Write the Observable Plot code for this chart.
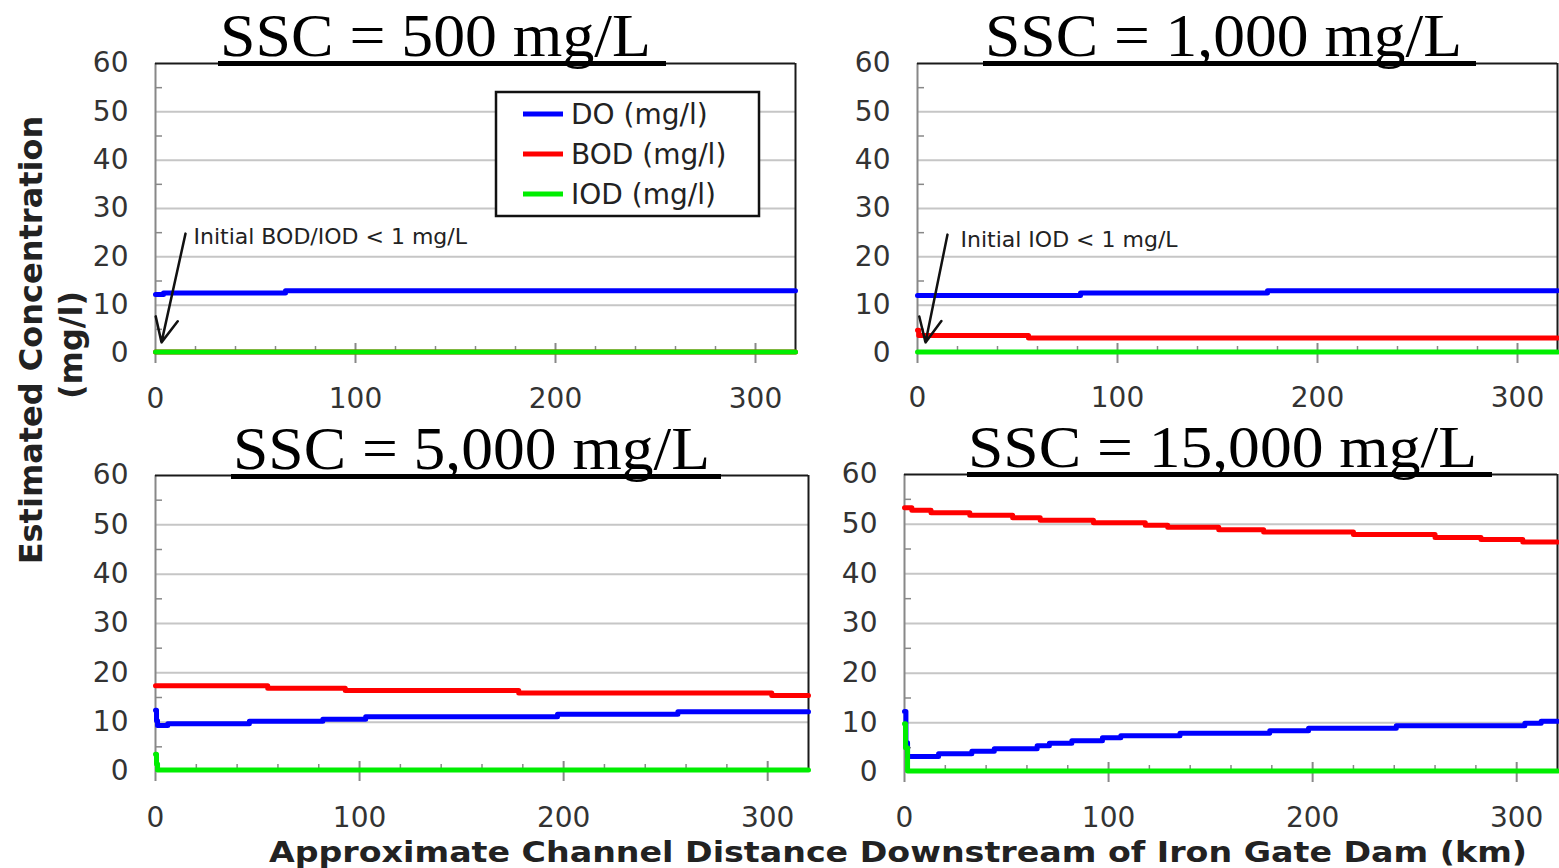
<!DOCTYPE html>
<html><head><meta charset="utf-8">
<script src="https://cdn.jsdelivr.net/npm/d3@7"></script>
<script src="https://cdn.jsdelivr.net/npm/@observablehq/plot@0.6"></script>
<style>
html,body{margin:0;padding:0;background:#fff;}
#wrap{position:relative;width:1559px;height:868px;overflow:hidden;background:#fff;}
#wrap > svg{position:absolute;}
</style></head><body><div id="wrap"></div>
<script>
// ---------- data ----------
const seriesNames = ["DO (mg/l)", "BOD (mg/l)", "IOD (mg/l)"];
const seriesColors = ["#0000ff", "#ff0000", "#00ee00"];
const panelTitles = ["SSC = 500 mg/L", "SSC = 1,000 mg/L", "SSC = 5,000 mg/L", "SSC = 15,000 mg/L"];
const yTickLabels = [0, 10, 20, 30, 40, 50, 60];
const yGrid = [10, 20, 30, 40, 50];
const yMinor = [5, 15, 25, 35, 45, 55];
const xTickLabels = [0, 100, 200, 300];
const xMajor = [100, 200, 300];
const xMinor = [20, 40, 60, 80, 120, 140, 160, 180, 220, 240, 260, 280];
const xMax = 320, yMax = 60;
const yAxisTitle = ["Estimated Concentration", "(mg/l)"];
const xAxisTitle = "Approximate Channel Distance Downstream of Iron Gate Dam (km)";

// SSC = 500 mg/L
const s500_DO_km = [0, 4, 65, 320];
const s500_DO = [12.2, 12.5, 13.0, 13.0];
const s500_BOD_km = [0, 320];
const s500_BOD = [0.3, 0.3];
const s500_IOD_km = [0, 320];
const s500_IOD = [0.3, 0.3];

// SSC = 1,000 mg/L
const s1000_DO_km = [0, 81.5, 175, 320];
const s1000_DO = [12.0, 12.5, 13.0, 13.0];
const s1000_BOD_km = [0, 0.6, 55.5, 320];
const s1000_BOD = [4.8, 3.7, 3.2, 3.2];
const s1000_IOD_km = [0, 320];
const s1000_IOD = [0.3, 0.3];

// SSC = 5,000 mg/L
const s5000_DO_km = [0, 0.5, 1, 6, 46, 82, 103, 197, 256, 320];
const s5000_DO = [12.4, 10.3, 9.3, 9.7, 10.2, 10.6, 11.1, 11.6, 12.1, 12.1];
const s5000_BOD_km = [0, 55, 93, 178, 302, 320];
const s5000_BOD = [17.4, 16.9, 16.4, 15.9, 15.4, 15.4];
const s5000_IOD_km = [0, 0.5, 1, 320];
const s5000_IOD = [3.5, 1.5, 0.3, 0.3];

// SSC = 15,000 mg/L
const s15000_DO_km = [0, 0.7, 1.5, 16.7, 33, 44, 65, 71, 82, 97, 106, 135, 179, 198, 241, 304, 312, 320];
const s15000_DO = [12.3, 6.0, 3.2, 3.8, 4.3, 4.8, 5.4, 5.9, 6.4, 7.0, 7.4, 7.9, 8.4, 8.9, 9.4, 9.9, 10.3, 10.3];
const s15000_BOD_km = [0, 3.6, 13, 32, 53, 66.5, 92.6, 118, 129, 154, 176, 220, 260, 282.5, 303, 320];
const s15000_BOD = [53.3, 52.8, 52.3, 51.8, 51.3, 50.8, 50.3, 49.8, 49.4, 48.9, 48.4, 47.9, 47.3, 46.9, 46.4, 46.4];
const s15000_IOD_km = [0, 0.5, 1.5, 320];
const s15000_IOD = [9.8, 5.0, 0.3, 0.3];

// annotations
const annot500 = {text: "Initial BOD/IOD < 1 mg/L", x: 19, y: 24.2, x1: 15, y1: 24.8, x2: 3, y2: 2.3};
const annot1000 = {text: "Initial IOD < 1 mg/L", x: 21.5, y: 23.4, x1: 15, y1: 24.6, x2: 4, y2: 2.3};

// ---------- build ----------
const toRows = (km, v, s) => km.map((k, i) => ({km: k, v: v[i], s}));
function seriesRows(DOkm, DO, BODkm, BOD, IODkm, IOD) {
  return [toRows(BODkm, BOD, 1), toRows(DOkm, DO, 0), toRows(IODkm, IOD, 2)];
}
const panels = [
  {rows: seriesRows(s500_DO_km, s500_DO, s500_BOD_km, s500_BOD, s500_IOD_km, s500_IOD), annot: annot500,
   left: 0, top: 0, width: 800, height: 420, mt: 63, mb: 67, ml: 155, mr: 5, pad: 35},
  {rows: seriesRows(s1000_DO_km, s1000_DO, s1000_BOD_km, s1000_BOD, s1000_IOD_km, s1000_IOD), annot: annot1000,
   left: 780, top: 0, width: 779, height: 420, mt: 63, mb: 67, ml: 137, mr: 2, pad: 34},
  {rows: seriesRows(s5000_DO_km, s5000_DO, s5000_BOD_km, s5000_BOD, s5000_IOD_km, s5000_IOD), annot: null,
   left: 0, top: 420, width: 815, height: 448, mt: 55, mb: 97, ml: 155, mr: 7, pad: 36},
  {rows: seriesRows(s15000_DO_km, s15000_DO, s15000_BOD_km, s15000_BOD, s15000_IOD_km, s15000_IOD), annot: null,
   left: 815, top: 420, width: 744, height: 448, mt: 54, mb: 96, ml: 89, mr: 2, pad: 35}
];

const wrap = document.getElementById("wrap");
const FONT = "DejaVu Sans, Verdana, sans-serif";

panels.forEach(p => {
  const marks = [
    Plot.ruleY(yGrid, {stroke: "#c6c6c6", strokeWidth: 2}),
    Plot.axisY({ticks: yTickLabels, tickSize: 0, tickPadding: 27, label: null, fontSize: 28, fill: "#333"}),
    Plot.axisY({ticks: yMinor, tickSize: 7, dx: 7, fill: "none", label: null, stroke: "#888", strokeWidth: 1.5}),
    Plot.axisX({ticks: xTickLabels, tickSize: 0, tickPadding: p.pad, label: null, fontSize: 28, fill: "#333"}),
    Plot.axisX({ticks: xMajor, tickSize: 20, dy: -10, fill: "none", label: null, stroke: "#888", strokeWidth: 2}),
    Plot.axisX({ticks: xMinor, tickSize: 7, dy: -7, fill: "none", label: null, stroke: "#888", strokeWidth: 1.5}),
    Plot.ruleX([0], {stroke: "#888", strokeWidth: 2, insetBottom: -10}),
    Plot.ruleY([yMax], {stroke: "#1a1a1a", strokeWidth: 2}),
    Plot.ruleX([xMax], {stroke: "#1a1a1a", strokeWidth: 2})
  ];
  p.rows.forEach(r => {
    marks.push(Plot.line(r, {x: "km", y: "v", curve: "step-after", stroke: seriesColors[r[0].s], strokeWidth: 5}));
  });
  if (p.annot) {
    marks.push(Plot.arrow([p.annot], {x1: "x1", y1: "y1", x2: "x2", y2: "y2", stroke: "#111", strokeWidth: 2.5, headLength: 16, headAngle: 50}));
    marks.push(Plot.text([p.annot], {x: "x", y: "y", text: "text", textAnchor: "start", fontSize: 22, fill: "#222"}));
  }
  const svg = Plot.plot({
    width: p.width, height: p.height,
    marginTop: p.mt, marginBottom: p.mb, marginLeft: p.ml, marginRight: p.mr,
    x: {domain: [0, xMax]},
    y: {domain: [0, yMax]},
    style: {background: "transparent", overflow: "visible", fontFamily: FONT, fontSize: "28px", color: "#333"},
    marks
  });
  svg.style.position = "absolute";
  svg.style.left = p.left + "px";
  svg.style.top = p.top + "px";
  svg.style.maxWidth = "none";
  wrap.appendChild(svg);
});

// ---------- overlay: titles, legend, axis titles ----------
const ov = d3.select(wrap).append("svg")
  .attr("width", 1559).attr("height", 868)
  .style("left", "0px").style("top", "0px").style("pointer-events", "none");

const titlePos = [
  {x: 220, y: 56, w: 431, fs: 62, ux: 218, uw: 448, uy: 61},
  {x: 985, y: 56, w: 477, fs: 62, ux: 983, uw: 493, uy: 61},
  {x: 233, y: 469, w: 477, fs: 62, ux: 231, uw: 490, uy: 474},
  {x: 968, y: 467, w: 509, fs: 60, ux: 967, uw: 525, uy: 472}
];
panelTitles.forEach((t, i) => {
  const p = titlePos[i];
  ov.append("text").attr("x", p.x).attr("y", p.y)
    .attr("font-family", "Liberation Serif, Times New Roman, serif").attr("font-size", p.fs)
    .attr("textLength", p.w).attr("lengthAdjust", "spacingAndGlyphs")
    .attr("fill", "#000").text(t);
  ov.append("rect").attr("x", p.ux).attr("y", p.uy).attr("width", p.uw).attr("height", 5).attr("fill", "#000");
});

// legend
const lg = ov.append("g");
lg.append("rect").attr("x", 496).attr("y", 92).attr("width", 263).attr("height", 124)
  .attr("fill", "#fff").attr("stroke", "#111").attr("stroke-width", 2.5);
[0, 1, 2].forEach(i => {
  const cy = 114 + i * 40;
  lg.append("line").attr("x1", 523).attr("x2", 563).attr("y1", cy).attr("y2", cy)
    .attr("stroke", seriesColors[i]).attr("stroke-width", 5);
  lg.append("text").attr("x", 571).attr("y", cy + 10)
    .attr("font-family", FONT).attr("font-size", 28).attr("fill", "#222").text(seriesNames[i]);
});

// y axis title
ov.append("text").attr("transform", "translate(42,340) rotate(-90)")
  .attr("text-anchor", "middle").attr("font-family", FONT).attr("font-weight", "bold")
  .attr("font-size", 32).attr("fill", "#222").text(yAxisTitle[0]);
ov.append("text").attr("transform", "translate(82,345) rotate(-90)")
  .attr("text-anchor", "middle").attr("font-family", FONT).attr("font-weight", "bold")
  .attr("font-size", 32).attr("fill", "#222").text(yAxisTitle[1]);

// x axis title
ov.append("text").attr("x", 898).attr("y", 862)
  .attr("text-anchor", "middle").attr("font-family", FONT).attr("font-weight", "bold")
  .attr("font-size", 29).attr("textLength", 1258).attr("lengthAdjust", "spacingAndGlyphs")
  .attr("fill", "#222").text(xAxisTitle);
</script></body></html>
